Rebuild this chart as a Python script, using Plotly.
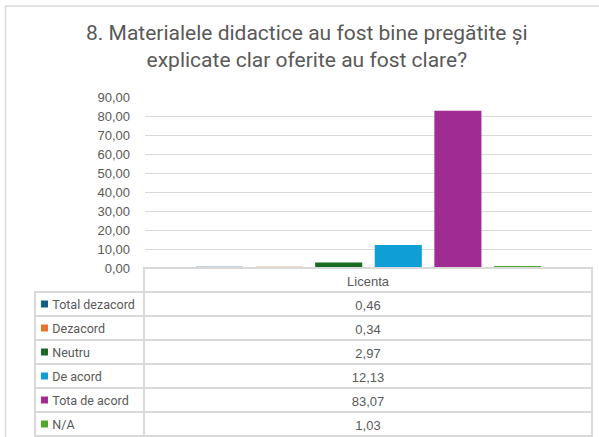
import plotly.graph_objects as go

# ---- data ----
title_lines = ["8. Materialele didactice au fost bine pregătite și",
               "explicate clar oferite au fost clare?"]
category = ["Licenta"]
series_names = ["Total dezacord", "Dezacord", "Neutru", "De acord", "Tota de acord", "N/A"]
series_values = [0.46, 0.34, 2.97, 12.13, 83.07, 1.03]
series_colors = ["#156082", "#E97132", "#196B24", "#0F9ED5", "#A02B93", "#4EA72E"]
y_ticks = [0, 10, 20, 30, 40, 50, 60, 70, 80, 90]

W, H = 599, 437
GRID = "#d9d9d9"
TXT = "#595959"
ROW_H = 24

def px_x(v):
    return v / W

def px_y(v):
    return 1 - v / H

fig = go.Figure()

for name, val, col in zip(series_names, series_values, series_colors):
    fig.add_trace(go.Bar(
        x=category, y=[val], name=name, marker=dict(color=col, line=dict(width=0)),
        showlegend=False, hoverinfo="name+y",
    ))

# data table under the chart (plain text, no spaces -> fixed row heights)
fmt = lambda v: f"{v:.2f}".replace(".", ",")
label_cells = ["\u00a0\u00a0\u00a0" + n.replace(" ", "\u00a0") for n in series_names]
value_cells = [fmt(v) for v in series_values]

table_top = 268
fig.add_trace(go.Table(
    domain=dict(x=[px_x(35), px_x(592)], y=[0, px_y(table_top)]),
    columnwidth=[109, 448],
    header=dict(
        values=["", category[0]],
        height=ROW_H,
        align=["left", "center"],
        line=dict(color=["rgba(0,0,0,0)", GRID], width=1.5),
        fill=dict(color=["rgba(0,0,0,0)", "white"]),
        font=dict(family="Liberation Sans", size=13, color=TXT),
    ),
    cells=dict(
        values=[label_cells, value_cells],
        height=ROW_H,
        align=["left", "center"],
        line=dict(color=GRID, width=1.5),
        fill=dict(color="rgba(0,0,0,0)"),
        font=dict(family=["Roboto", "Liberation Sans"], size=[12.5, 13], color=TXT),
    ),
))

# legend keys in the table rows: one square per series, placed by row index
n = len(series_names)
rows_top = table_top + ROW_H
rows_bottom = rows_top + ROW_H * n
fig.add_trace(go.Scatter(
    x=[0.5] * n, y=list(range(n)), mode="markers",
    marker=dict(symbol="square", size=7, color=series_colors, line=dict(width=0)),
    xaxis="x2", yaxis="y2", showlegend=False, hoverinfo="skip",
))

fig.update_layout(
    width=W, height=H,
    margin=dict(l=0, r=0, t=0, b=0, autoexpand=False),
    paper_bgcolor="white", plot_bgcolor="rgba(0,0,0,0)",
    separators=",.",
    barmode="group", bargap=0.2, bargroupgap=0.21,
    xaxis=dict(domain=[px_x(145), px_x(592)], showticklabels=False, showgrid=False,
               zeroline=False, showline=False, ticks="", automargin=False),
    yaxis=dict(domain=[px_y(table_top), px_y(97.7)], range=[0, 90], tickvals=y_ticks,
               tickformat=".2f", showgrid=True, gridcolor=GRID, gridwidth=1,
               zeroline=False, showline=False, ticks="", ticklabelstandoff=14,
               automargin=False,
               tickfont=dict(family="Liberation Sans", size=13, color=TXT)),
    xaxis2=dict(domain=[px_x(39), px_x(50)], range=[0, 1], visible=False,
                automargin=False, fixedrange=True),
    yaxis2=dict(domain=[px_y(rows_bottom), px_y(rows_top)], range=[n - 0.5, -0.5],
                visible=False, automargin=False, fixedrange=True),
    annotations=[dict(
        text="<br>".join(title_lines), xref="paper", yref="paper",
        x=px_x(307.5), y=px_y(46.5), xanchor="center", yanchor="middle",
        showarrow=False, font=dict(family="Roboto", size=21, color=TXT),
    )],
    shapes=[dict(type="rect", xref="paper", yref="paper",
                 x0=px_x(5.5), x1=px_x(620), y0=px_y(6), y1=px_y(460),
                 line=dict(color=GRID, width=1.5))],
)

fig.write_html("out.html", config={"displayModeBar": False},
               post_script="document.body.style.margin='0';document.body.style.overflow='hidden';")
